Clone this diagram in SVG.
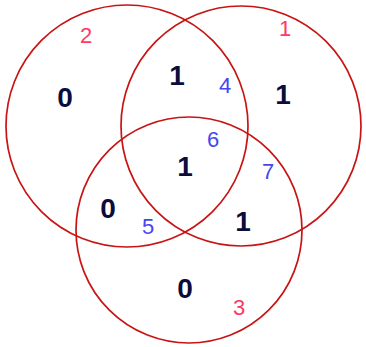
<svg xmlns="http://www.w3.org/2000/svg" width="366" height="347" viewBox="0 0 366 347">
<style>
.c{fill:none;stroke:#c81414;stroke-width:1.7}
.v{font-family:"Liberation Sans",Arial,sans-serif;font-weight:bold;font-size:28px;fill:#0c0c3c;text-anchor:middle}
.p{font-family:"Liberation Sans",Arial,sans-serif;font-size:22px;fill:#ff3864;text-anchor:middle}
.b{font-family:"Liberation Sans",Arial,sans-serif;font-size:22px;fill:#4646f0;text-anchor:middle}
</style>
<rect width="366" height="347" fill="#ffffff"/>
<g id="connectors"></g>
<g id="circleA"><circle class="c" cx="127" cy="126" r="121"/></g>
<g id="circleB"><circle class="c" cx="241" cy="126" r="120"/></g>
<g id="circleC"><circle class="c" cx="189" cy="230" r="113"/></g>
<g id="region2"><text class="p" x="86" y="43">2</text><text class="v" x="65" y="107">0</text></g>
<g id="region1"><text class="p" x="285" y="36">1</text><text class="v" x="283" y="104">1</text></g>
<g id="region4"><text class="b" x="225" y="93">4</text><text class="v" x="177" y="85">1</text></g>
<g id="region6"><text class="b" x="213" y="147">6</text><text class="v" x="185" y="176">1</text></g>
<g id="region7"><text class="b" x="268" y="179">7</text><text class="v" x="243" y="231">1</text></g>
<g id="region5"><text class="b" x="148" y="234">5</text><text class="v" x="108" y="218">0</text></g>
<g id="region3"><text class="p" x="239" y="315">3</text><text class="v" x="185" y="298">0</text></g>
</svg>
